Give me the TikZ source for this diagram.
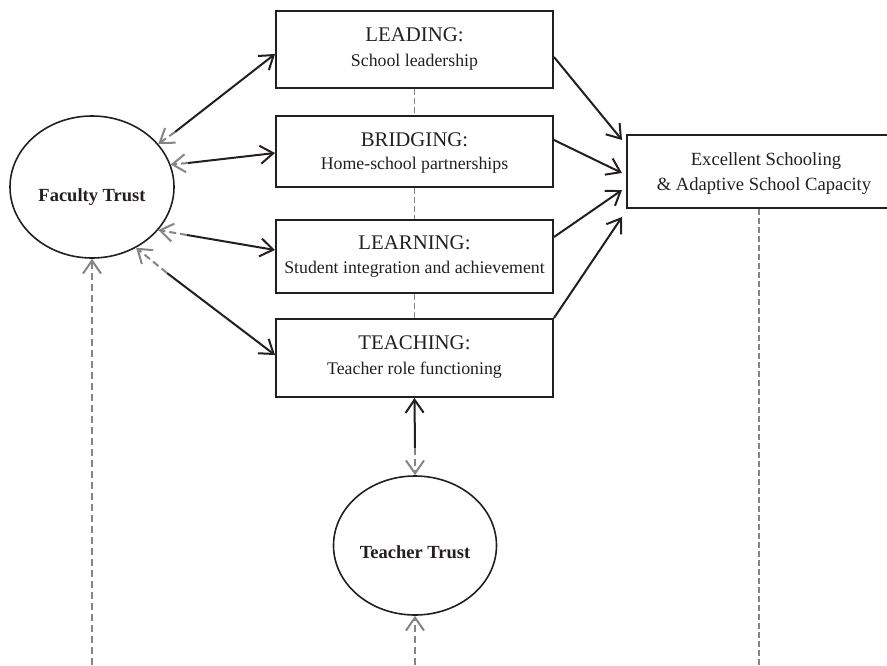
\documentclass[tikz,border=0pt]{standalone}
\usepackage{fontspec}
\setmainfont{Liberation Serif}
\usetikzlibrary{arrows.meta,calc,shapes.geometric}

\definecolor{ink}{HTML}{231F20}
\definecolor{dashgray}{HTML}{858585}

\begin{document}
\begin{tikzpicture}[x=1pt,y=-1pt,
  stagebox/.style={draw=ink, line width=2pt, minimum width=277pt, inner sep=0pt},
  outcomebox/.style={draw=ink, line width=2pt, minimum width=278pt, minimum height=73pt, inner sep=0pt},
  trustnode/.style={draw=ink, ellipse, line width=1.6pt, minimum width=164pt, minimum height=142pt, inner sep=0pt},
  ttl/.style={anchor=base, text=ink, font=\fontsize{20.8}{25}\selectfont},
  subttl/.style={anchor=base, text=ink, font=\fontsize{17.8}{22}\selectfont},
  outtxt/.style={anchor=base, text=ink, font=\fontsize{18.6}{23}\selectfont},
  trusttxt/.style={anchor=base, text=ink, font=\fontsize{18.5}{23}\selectfont\bfseries},
  barb/.tip={Straight Barb[length=13pt,width=18pt]},
  link/.style={draw=ink, line width=2pt, -barb},
  back/.style={draw=dashgray, line width=2pt, dash pattern=on 7pt off 4pt, -barb},
  joiner/.style={draw=dashgray, line width=1.6pt, dash pattern=on 6pt off 3pt},
]
\useasboundingbox (0,0) rectangle (887,665);
\clip (0,0) rectangle (887,665);

% the four stages
\node[stagebox, minimum height=77pt] (lead)   at (414.5,49.5) {};
\node[stagebox, minimum height=71pt] (bridge) at (414.5,151.5) {};
\node[stagebox, minimum height=73pt] (learn)  at (414.5,256.5) {};
\node[stagebox, minimum height=78pt] (teach)  at (414.5,358) {};

\node[ttl]    at ($(lead.north)+(0,31)$)   {LEADING:};
\node[subttl] at ($(lead.north)+(0,56)$)   {School leadership};
\node[ttl]    at ($(bridge.north)+(0,31)$) {BRIDGING:};
\node[subttl] at ($(bridge.north)+(0,54)$) {Home-school partnerships};
\node[ttl]    at ($(learn.north)+(0,30)$)  {LEARNING:};
\node[subttl] at ($(learn.north)+(0,54)$)  {Student integration and achievement};
\node[ttl]    at ($(teach.north)+(0,31)$)  {TEACHING:};
\node[subttl] at ($(teach.north)+(0,56)$)  {Teacher role functioning};

% outcome
\node[outcomebox] (exc) at (766,171.5) {};
\node[outtxt] at ($(exc.center)+(0,-6.5)$) {Excellent Schooling};
\node[outtxt] at ($(exc.center)+(-2,18.5)$) {\& Adaptive School Capacity};

% trust ellipses
\node[trustnode] (ft) at (92,187) {};
\node[trusttxt] at ($(ft.center)+(0,14)$) {Faculty Trust};
\node[trustnode, minimum width=163pt, minimum height=139pt] (tt) at (415,545.5) {};
\node[trusttxt] at ($(tt.center)+(0,12.5)$) {Teacher Trust};

% dashed joiners between the stages
\draw[joiner] (lead.south) -- (bridge.north);
\draw[joiner] (bridge.south) -- (learn.north);
\draw[joiner] (learn.south) -- (teach.north);

% stages feed the outcome
\draw[link] ($(lead.east)+(0,7.5)$)     -- ($(exc.west)+(-4,-31.5)$);
\draw[link] ($(bridge.east)+(0,-11.5)$) -- ($(exc.west)+(-4,1.5)$);
\draw[link] ($(learn.east)+(0,-19.5)$)  -- ($(exc.west)+(-4,18.5)$);
\draw[link] (teach.north east)          -- ($(exc.west)+(-4,45.5)$);

% faculty trust <-> stages: solid toward the stage, dashed back to trust
\coordinate (f1) at (175,132);
\coordinate (f2) at (188,163);
\coordinate (f3) at (187,235);
\coordinate (f4) at (167,273);
\draw[link] (f1) -- ($(lead.west)+(0,4.5)$);
\draw[back] (f1) -- (ft.33);
\draw[link] (f2) -- ($(bridge.west)+(0,1.5)$);
\draw[back] (f2) -- (ft.16);
\draw[link] (f3) -- ($(learn.west)+(0,-6.5)$);
\draw[back] (f3) -- (ft.-33);
\draw[link] (f4) -- ($(teach.west)+(0,-3)$);
\draw[back] (f4) -- (ft.-54);

% teacher trust <-> teaching
\coordinate (tmid) at (415,448);
\draw[link] (tmid) -- (teach.south);
\draw[back] (tmid) -- (tt.north);

% incoming and outgoing dashed lines at the bottom edge
\coordinate (ftfoot) at (92,665);
\coordinate (ttfoot) at (415,665);
\coordinate (excfoot) at (759,665);
\draw[back] (ftfoot) -- (ft.south);
\draw[back] (ttfoot) -- (tt.south);
\draw[joiner, line width=1.3pt] (exc.south -| excfoot) -- (excfoot);
\end{tikzpicture}
\end{document}
